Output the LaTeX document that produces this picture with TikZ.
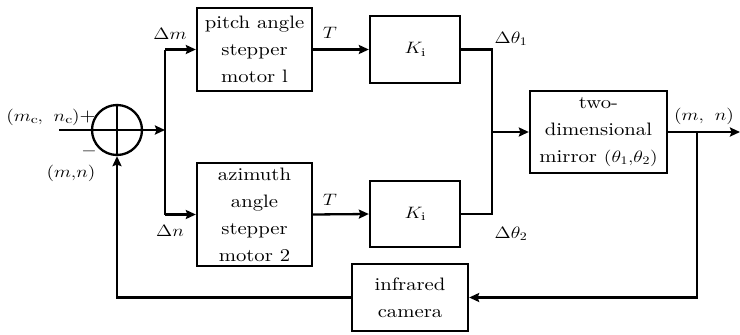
\RequirePackage{fix-cm}
\documentclass[tikz,border=0pt]{standalone}
\usepackage{graphicx}
\usepackage{fontspec}
\setmainfont{lmroman10-regular}[Extension=.otf, FakeStretch=1.15]
\usetikzlibrary{arrows.meta}
\newcommand{\mth}[1]{{\fontsize{16.5}{26}\selectfont\scalebox{1.2}[1]{$#1$}}}
\begin{document}
\begin{tikzpicture}[x=1pt,y=-1pt,
  fnt/.style={font=\fontsize{18}{27}\selectfont},
  blk/.style={fnt,draw,line width=2.3pt,align=center,inner sep=0pt},
  lbl/.style={fnt,inner sep=0pt},
  wire/.style={line width=2.3pt},
  arr/.style={wire,-{Stealth[length=10pt,width=9pt,inset=1.5pt]}}]
\useasboundingbox (0,0) rectangle (740,335);
% blocks
\node[draw,circle,line width=2.3pt,minimum size=50pt,inner sep=0pt] (sum) at (117,130) {};
\draw[wire] (sum.north) -- (sum.south) (sum.west) -- (sum.east);
\node[blk,minimum width=115pt,minimum height=83pt] (pitch) at (254.5,49.5) {pitch angle\\stepper\\motor l};
\node[blk,minimum width=115pt,minimum height=103pt] (azim) at (254.5,214.5) {azimuth\\angle\\stepper\\motor 2};
\node[blk,minimum width=90pt,minimum height=67pt] (k1) at (415,49.5) {\mth{K_{\mathrm{i}}}};
\node[blk,minimum width=90pt,minimum height=66pt] (k2) at (415,214) {\mth{K_{\mathrm{i}}}};
\node[blk,minimum width=137pt,minimum height=82pt] (mir) at (598.5,132) {two-\\dimensional\\mirror \mth{(\theta_1{,}\theta_2)}};
\node[blk,minimum width=116pt,minimum height=67pt] (cam) at (410,297.5) {infrared\\camera};
% coordinates
\coordinate (in) at (59,130);
\coordinate (split) at (165,130);
\coordinate (merge) at (492,132);
\coordinate (out) at (740,132);
\coordinate (tap) at (697,132);
% connectors
\draw[wire] (in) -- (sum.west);
\draw[arr] (sum.east) -- (split);
\draw[wire] (split |- pitch.west) -- (split |- azim.west);
\draw[arr] (split |- pitch.west) -- (pitch.west);
\draw[arr] (split |- azim.west) -- (azim.west);
\draw[arr] (pitch.east) -- (k1.west);
\draw[arr] (azim.east) -- (k2.west);
\draw[wire] (k1.east) -| (merge) |- (k2.east);
\draw[arr] (merge) -- (mir.west);
\draw[arr] (mir.east) -- (out);
\draw[arr] (tap) |- (cam.east);
\draw[arr] (cam.west) -| (sum.south);
% labels
\node[lbl] (lin) at (51,117) {\mth{(m_{\mathrm{c}},\ n_{\mathrm{c}})}+};
\node[lbl] (lminus) at (89,151) {\mth{-}};
\node[lbl] (lfb) at (71,173) {\mth{(m{,}n)}};
\node[lbl] (ldm) at (170,34) {\mth{\Delta m}};
\node[lbl] (ldn) at (170,231) {\mth{\Delta n}};
\node[lbl] (lt1) at (330,33) {\mth{T}};
\node[lbl] (lt2) at (330,200) {\mth{T}};
\node[lbl] (ld1) at (511,39) {\mth{\Delta\theta_1}};
\node[lbl] (ld2) at (511,234) {\mth{\Delta\theta_2}};
\node[lbl] (lout) at (704,116) {\mth{(m,\ n)}};
\end{tikzpicture}
\end{document}
